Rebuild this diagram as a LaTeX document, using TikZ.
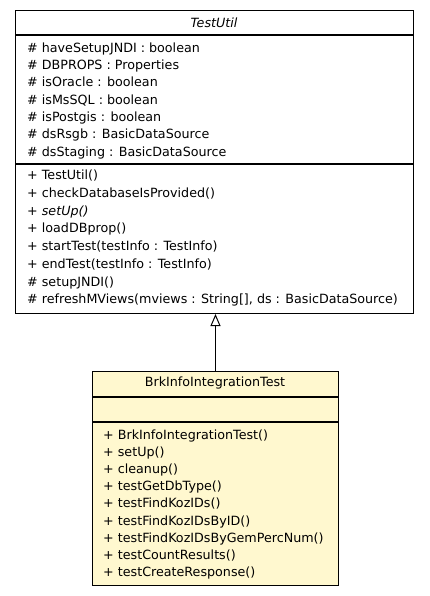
\documentclass[tikz,border=0pt]{standalone}
\usepackage{fontspec}
\setmainfont{DejaVu Sans}
\usetikzlibrary{arrows.meta}
\definecolor{classfill}{HTML}{FFF8CF}
\begin{document}
\begin{tikzpicture}[x=1pt,y=-1pt,
  umlbox/.style={draw=black, line width=1pt, anchor=north west, inner sep=0pt},
  member/.style={anchor=base west, inner sep=0pt, font=\fontsize{12.7}{15}\selectfont},
  classname/.style={anchor=base, inner sep=0pt, font=\fontsize{12.7}{15}\selectfont},
  sep/.style={line width=1.3pt},
  inherit/.style={line width=1pt, -{Triangle[open, width=10pt, length=12pt, line width=1pt]}}]
\useasboundingbox (0,0) rectangle (429,596);

% base class TestUtil
\node[umlbox, minimum width=398pt, minimum height=303pt] (testutil) at (15,10) {};
\draw[sep] (15,35) -- (413,35);
\draw[sep] (15,164) -- (413,164);
\node[classname] (tu-name) at (214,27.5) {\itshape TestUtil};
\foreach \t [count=\i from 0] in {
  {\# haveSetupJNDI : boolean},
  {\# DBPROPS : Properties},
  {\# isOracle : boolean},
  {\# isMsSQL : boolean},
  {\# isPostgis : boolean},
  {\# dsRsgb : BasicDataSource},
  {\# dsStaging : BasicDataSource}}
  \node[member] (tu-attr-\i) at (27,{52.3+17.33*\i}) {\t};
\foreach \t [count=\i from 0] in {
  {+ TestUtil()},
  {+ checkDatabaseIsProvided()},
  {\itshape + setUp()},
  {+ loadDBprop()},
  {+ startTest(testInfo : TestInfo)},
  {+ endTest(testInfo : TestInfo)},
  {\# setupJNDI()},
  {\# refreshMViews(mviews : String[], ds : BasicDataSource)}}
  \node[member] (tu-op-\i) at (27,{179.8+17.7*\i}) {\t};

% derived class BrkInfoIntegrationTest
\node[umlbox, fill=classfill, minimum width=246pt, minimum height=214pt] (brk) at (92,371) {};
\draw[sep] (92,397) -- (338,397);
\draw[sep] (92,422) -- (338,422);
\node[classname] (brk-name) at (215,386.5) {BrkInfoIntegrationTest};
\foreach \t [count=\i from 0] in {
  {+ BrkInfoIntegrationTest()},
  {+ setUp()},
  {+ cleanup()},
  {+ testGetDbType()},
  {+ testFindKozIDs()},
  {+ testFindKozIDsByID()},
  {+ testFindKozIDsByGemPercNum()},
  {+ testCountResults()},
  {+ testCreateResponse()}}
  \node[member] (brk-op-\i) at (103,{439.5+17.1*\i}) {\t};

% generalization
\draw[inherit] (brk.north) -- (brk.north |- testutil.south);
\end{tikzpicture}
\end{document}
